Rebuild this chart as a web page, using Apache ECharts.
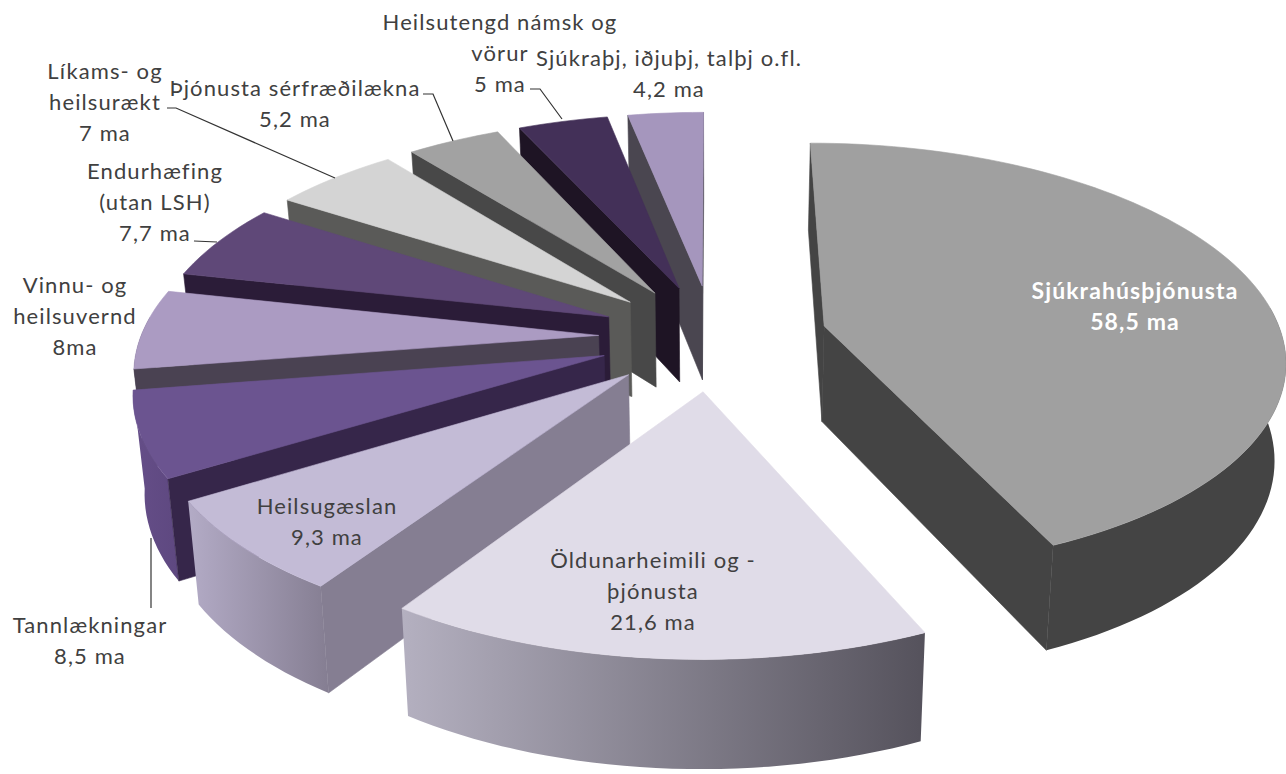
<!DOCTYPE html>
<html>
<head>
<meta charset="utf-8">
<title>Heilbrigðisútgjöld</title>
<script src="https://cdn.jsdelivr.net/npm/echarts@6/dist/echarts.min.js"></script>
<style>
  html, body { margin: 0; padding: 0; background: #fff; }
  #main { width: 1286px; height: 774px; }
  #main text { letter-spacing: 1.1px; }
</style>
</head>
<body>
<div id="main"></div>
<script>
// values in order round the pie, clockwise from 12 o'clock
const categories = ["Sjúkrahúsþjónusta", "Öldunarheimili og -þjónusta", "Heilsugæslan", "Tannlækningar", "Vinnu- og heilsuvernd", "Endurhæfing (utan LSH)", "Líkams- og heilsurækt", "Þjónusta sérfræðilækna", "Heilsutengd námsk og vörur", "Sjúkraþj, iðjuþj, talþj o.fl."];
const values = [58.5, 21.6, 9.3, 8.5, 8, 7.7, 7, 5.2, 5, 4.2];
const labelTexts = [
  "Sjúkrahúsþjónusta\n58,5 ma",
  "Öldunarheimili og -\nþjónusta\n21,6 ma",
  "Heilsugæslan\n9,3 ma",
  "Tannlækningar\n8,5 ma",
  "Vinnu- og\nheilsuvernd\n8ma",
  "Endurhæfing\n(utan LSH)\n7,7 ma",
  "Líkams- og\nheilsurækt\n7 ma",
  "Þjónusta sérfræðilækna\n5,2 ma",
  "Heilsutengd námsk og\nvörur\n5 ma",
  "Sjúkraþj, iðjuþj, talþj o.fl.\n4,2 ma"
];

// styles per slice
const topColors = ["#a0a0a0", "#e0dce8", "#c3bbd6", "#6b5490", "#ab9bc2", "#5f4878", "#d4d4d4", "#a2a2a2", "#433058", "#a596bd"];
const wallColors = ["#444444", "#5b5862", "#857e92", "#36264a", "#4a4252", "#2b1c38", "#5a5a58", "#484848", "#1e1424", "#4a4650"];
const rimColors = [
  ["#444444", "#444444"], ["#b4b0c0", "#55525c"], ["#b3abc6", "#857e92"], ["#654e88", "#5e4880"],
  ["#4a4252", "#4a4252"], ["#2b1c38", "#2b1c38"], ["#5a5a58", "#5a5a58"], ["#484848", "#484848"],
  ["#1e1424", "#1e1424"], ["#4a4650", "#4a4650"]
];
// label anchors (centre of text block) and leader lines
const labelPos = [[1135, 305], [653, 590], [327, 521], [90, 640], [75, 315], [155, 201], [105, 101], [295, 103], [500, 52], [669, 73]];
const leaders = [
  [[167, 108], [176, 108], [335, 178]],
  [[194, 241], [217, 242]],
  [[423, 94], [433, 94], [453, 141]],
  [[530, 89], [540, 89], [562, 119]],
  [[151, 538], [151, 608]]
];

// fake perspective camera for the tilted pie
const CX = 713, CY = 337, SX = 458, SY = 212, K = 0.143, K2 = 0.1, H = 96, EXPLODE = 0.25, LEAN = 0.98;
const TOTAL = values.reduce((a, b) => a + b, 0);

function topPoint(u, v) {
  const w = 1 - K * v;
  return [CX + SX * u / w, CY + SY * v / w];
}
function bottomPoint(u, v) {
  const p = topPoint(u, v);
  return [CX + (p[0] - CX) * LEAN, p[1] + H / (1 - K2 * v)];
}
function side(a, b, p) {
  return (b[0] - a[0]) * (p[1] - a[1]) - (b[1] - a[1]) * (p[0] - a[0]);
}

function renderSlice(params, api) {
  const i = api.value(0);
  const start = api.value(1) / TOTAL * 2 * Math.PI;
  const end = (api.value(1) + api.value(2)) / TOTAL * 2 * Math.PI;
  const mid = (start + end) / 2;
  const u0 = EXPLODE * Math.sin(mid), v0 = -EXPLODE * Math.cos(mid);
  const uv = (t) => [u0 + Math.sin(t), v0 - Math.cos(t)];
  const steps = Math.max(4, Math.ceil((end - start) / 0.03));

  const arc = [];
  for (let s = 0; s <= steps; s++) {
    const t = start + (end - start) * s / steps;
    arc.push(topPoint.apply(null, uv(t)));
  }
  const apex = topPoint(u0, v0), apexLow = bottomPoint(u0, v0);
  const midTop = topPoint.apply(null, uv(mid));
  const children = [];

  // rim first, only the front part
  const rimFrom = Math.max(start, 85 * Math.PI / 180), rimTo = Math.min(end, 275 * Math.PI / 180);
  if (rimTo > rimFrom) {
    const upper = [], lower = [];
    const n = Math.ceil((rimTo - rimFrom) / 0.03);
    for (let s = 0; s <= n; s++) {
      const o = uv(rimFrom + (rimTo - rimFrom) * s / n);
      upper.push(topPoint(o[0], o[1]));
      lower.unshift(bottomPoint(o[0], o[1]));
    }
    children.push({
      type: "polygon",
      shape: { points: upper.concat(lower) },
      style: {
        fill: new echarts.graphic.LinearGradient(1, 0, 0, 0, [
          { offset: 0, color: rimColors[i][1] },
          { offset: 1, color: rimColors[i][0] }
        ])
      }
    });
  }

  // radial walls, only where they face the viewer; thin stroke closes the seam to the rim
  [start, end].forEach((t) => {
    const o = uv(t);
    const oTop = topPoint(o[0], o[1]), oLow = bottomPoint(o[0], o[1]);
    if (side(apex, oTop, oLow) * side(apex, oTop, midTop) < 0) {
      children.push({
        type: "polygon",
        shape: { points: [apex, oTop, oLow, apexLow] },
        style: { fill: wallColors[i], stroke: wallColors[i], lineWidth: 0.6 }
      });
    }
  });

  children.push({ type: "polygon", shape: { points: [apex].concat(arc) }, style: { fill: topColors[i], stroke: topColors[i], lineWidth: 0.6 } });
  return { type: "group", children: children };
}

// start offset of each slice, then painted from the back round the left to the front
let run = 0;
const sliceRows = values.map((v, i) => {
  const row = [i, run, v];
  run += v;
  return row;
});
const paintOrder = sliceRows.slice(2).reverse().concat([sliceRows[1], sliceRows[0]]);

const labelElements = labelTexts.map((text, i) => ({
  type: "text",
  silent: true,
  z: 10,
  style: {
    x: labelPos[i][0],
    y: labelPos[i][1],
    text: text,
    textAlign: "center",
    textVerticalAlign: "middle",
    fontFamily: "Lato",
    fontSize: i === 0 ? 23 : 22,
    fontWeight: i === 0 ? "bold" : "normal",
    lineHeight: 31,
    fill: i === 0 ? "#ffffff" : "#404040"
  }
}));
const leaderElements = leaders.map((pts) => ({
  type: "polyline",
  silent: true,
  z: 9,
  shape: { points: pts },
  style: { stroke: "#333333", lineWidth: 1.2, fill: "none" }
}));

const chart = echarts.init(document.getElementById("main"), null, { renderer: "svg" });
chart.setOption({
  animation: false,
  backgroundColor: "#ffffff",
  graphic: { elements: leaderElements.concat(labelElements) },
  series: [
    {
      type: "custom",
      coordinateSystem: "none",
      silent: true,
      renderItem: renderSlice,
      encode: { value: 2, itemName: 0 },
      data: paintOrder
    }
  ]
});
</script>
</body>
</html>
